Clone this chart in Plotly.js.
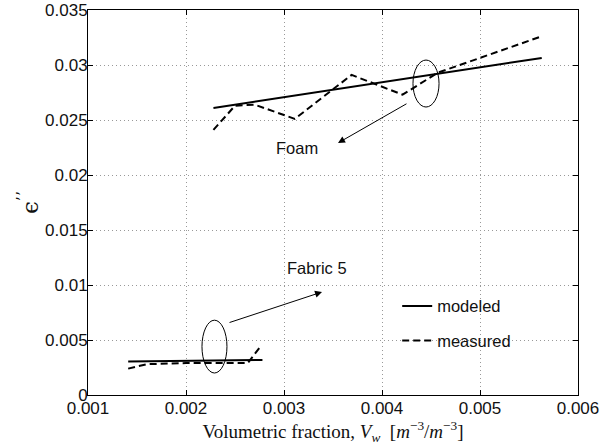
<!DOCTYPE html>
<html><head><meta charset="utf-8">
<script src="https://cdn.plot.ly/plotly-3.0.1.min.js"></script>
<style>body{margin:0;background:#fff}#plot{width:614px;height:445px}</style>
</head><body><div id="plot"></div>
<script>
// Foam
const foamModeledX = [0.00228, 0.00563];
const foamModeledY = [0.02609, 0.03064];
const foamMeasuredX = [0.00228, 0.0025, 0.0027, 0.00311, 0.00369, 0.00421, 0.00457, 0.00561];
const foamMeasuredY = [0.0241, 0.0263, 0.0264, 0.0251, 0.0291, 0.0273, 0.0293, 0.03255];
// Fabric 5
const fabricModeledX = [0.00141, 0.00278];
const fabricModeledY = [0.00305, 0.00318];
const fabricMeasuredX = [0.00141, 0.0016, 0.0020, 0.00263, 0.00275];
const fabricMeasuredY = [0.0024, 0.0028, 0.0029, 0.0029, 0.0043];
const legendNames = ["modeled", "measured"];
const xTicks = [0.001, 0.002, 0.003, 0.004, 0.005, 0.006];
const yTicks = [0, 0.005, 0.01, 0.015, 0.02, 0.025, 0.03, 0.035];

const solid = {color: '#000', width: 2};
const dashed = {color: '#000', width: 2, dash: '7px,4px'};
const traces = [
  {x: foamModeledX, y: foamModeledY, mode: 'lines', line: solid, name: legendNames[0], legendgroup: 'a'},
  {x: foamMeasuredX, y: foamMeasuredY, mode: 'lines', line: dashed, name: legendNames[1], legendgroup: 'b'},
  {x: fabricModeledX, y: fabricModeledY, mode: 'lines', line: solid, name: legendNames[0], legendgroup: 'a', showlegend: false},
  {x: fabricMeasuredX, y: fabricMeasuredY, mode: 'lines', line: dashed, name: legendNames[1], legendgroup: 'b', showlegend: false}
];
const sans = 'Liberation Sans, Arial';
const axisCommon = {
  showline: true, linecolor: '#000', linewidth: 1, mirror: 'ticks',
  ticks: 'inside', ticklen: 5, tickcolor: '#000',
  showgrid: true, gridcolor: '#999', griddash: '1px,3px', gridwidth: 1,
  zeroline: false, tickfont: {family: sans, size: 17, color: '#111'}
};
const layout = {
  width: 614, height: 445,
  margin: {l: 88, r: 36, t: 10, b: 50},
  paper_bgcolor: '#fff', plot_bgcolor: '#fff',
  showlegend: true,
  legend: {x: 0.631, y: 0.276, xanchor: 'left', yanchor: 'top', bgcolor: 'rgba(0,0,0,0)',
           font: {family: sans, size: 16.5, color: '#111'}, tracegroupgap: 10},
  xaxis: Object.assign({}, axisCommon, {range: [0.001, 0.006], tickvals: xTicks, ticktext: xTicks.map(String),
    ticklabelstandoff: -2,
    title: {text: 'Volumetric fraction, <i>V</i><sub><i>w</i></sub>  [<i>m</i><sup>−3</sup>/<i>m</i><sup>−3</sup>]',
      font: {family: 'Liberation Serif, Times New Roman', size: 19, color: '#111'}, standoff: 0}}),
  yaxis: Object.assign({}, axisCommon, {range: [0, 0.035], tickvals: yTicks, ticktext: yTicks.map(String),
    ticklabelstandoff: -4,
    title: {text: 'ϵ<sup>’’</sup>', font: {family: 'DejaVu Serif, Liberation Serif', size: 23, color: '#111'}, standoff: 0}}),
  shapes: [
    {type: 'circle', xref: 'x', yref: 'y', x0: 0.004316, x1: 0.004582, y0: 0.02618, y1: 0.03045, line: {color: '#000', width: 1}},
    {type: 'circle', xref: 'x', yref: 'y', x0: 0.002163, x1: 0.002418, y0: 0.0020, y1: 0.0068, line: {color: '#000', width: 1}}
  ],
  annotations: [
    {x: 0.003551, y: 0.02291, ax: 0.004265, ay: 0.02655, xref: 'x', yref: 'y', axref: 'x', ayref: 'y',
     text: '', showarrow: true, arrowhead: 2, arrowsize: 1.4, arrowwidth: 1, arrowcolor: '#000'},
    {x: 0.003388, y: 0.009364, ax: 0.002429, ay: 0.006545, xref: 'x', yref: 'y', axref: 'x', ayref: 'y',
     text: '', showarrow: true, arrowhead: 2, arrowsize: 1.4, arrowwidth: 1, arrowcolor: '#000'},
    {x: 0.00313, y: 0.0225, xref: 'x', yref: 'y', text: 'Foam', showarrow: false,
     font: {family: sans, size: 16.5, color: '#111'}},
    {x: 0.00334, y: 0.01155, xref: 'x', yref: 'y', text: 'Fabric 5', showarrow: false,
     font: {family: sans, size: 16.5, color: '#111'}}
  ]
};
Plotly.newPlot('plot', traces, layout, {displayModeBar: false, staticPlot: true});
</script></body></html>
